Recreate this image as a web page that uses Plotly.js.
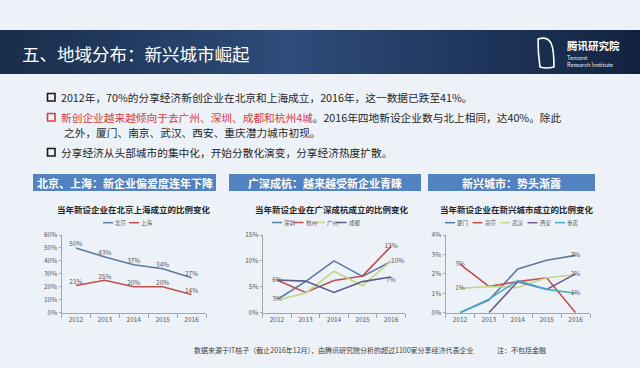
<!DOCTYPE html>
<html><head><meta charset="utf-8">
<script src="https://cdn.plot.ly/plotly-3.0.1.min.js"></script>
<style>html,body{margin:0;padding:0;background:#edf1f8;}#chart{width:640px;height:368px;}</style>
</head><body><div id="chart"></div>
<script>
// ---------- data ----------
const years = ['2012','2013','2014','2015','2016'];

// chart 1: 北京 / 上海
const bjshNames = ['北京','上海'];
const beijing  = [50,43,37,34,27];
const shanghai = [21,25,20,20,14];

// chart 2: 广深成杭
const gsNames   = ['深圳','杭州','广州','成都'];
const shenzhen  = [2.5,6.0,10.0,7.0,9.9];
const hangzhou  = [6.3,3.9,6.2,7.1,12.8];
const guangzhou = [2.4,3.8,8.0,5.2,10.0];
const chengdu   = [6.3,6.1,3.9,6.0,6.9];
const gsLabels  = [['3%','','','',''],['6%','','','','13%'],['','','','','10%'],['','','','','7%']];

// chart 3: 新兴城市
const newNames  = ['厦门','南京','武汉','西安','重庆'];
const xiamen    = [0,0.65,2.25,2.7,2.95];
const nanjing   = [2.5,1.35,1.6,1.8,0];
const wuhan     = [1.25,1.35,1.3,1.8,1.95];
const xian      = [null,0,1.6,1.2,2.0];
const chongqing = [0,0.7,1.65,1.2,1.0];
const newLabels = [['','','','','3%'],['3%','','','',''],['1%','','','','2%'],['','','','',''],['','','','','1%']];

// ---------- styles ----------
const FONT = '"Noto Sans CJK SC", "Noto Sans", sans-serif';
const c1 = ['#5b7ba3','#c0504d'];
const c2 = ['#5b7ba3','#c0504d','#c3d68a','#5f5a8c'];
const c3 = ['#5b7ba3','#c0504d','#c3d68a','#6e5a8e','#4bacc6'];
const W = 640, H = 368;
const px = x => x / W, py = y => 1 - y / H;

const traces = [];
function addSeries(vals, name, color, axN, text, pos) {
  traces.push({
    type:'scatter', mode:'lines+text', x: years, y: vals, name: name,
    xaxis: 'x' + (axN===1?'':axN), yaxis: 'y' + (axN===1?'':axN),
    line:{color:color, width:1.6}, text:text, textposition:pos,
    textfont:{size:6.5, color:'#595959', family:FONT},
    cliponaxis:false, showlegend:false, hoverinfo:'skip', connectgaps:false
  });
}
addSeries(beijing, bjshNames[0], c1[0], 1, beijing.map(v=>v+'%'), 'top center');
addSeries(shanghai, bjshNames[1], c1[1], 1, shanghai.map(v=>v+'%'), 'top center');

const gsData = [shenzhen, hangzhou, guangzhou, chengdu];
const gsPos = [
  ['middle center','top center','top center','top center','top center'],
  ['middle center','top center','top center','top center','middle center'],
  ['top center','top center','top center','top center','middle right'],
  ['top center','top center','top center','top center','bottom center']];
gsData.forEach((d,i)=>addSeries(d, gsNames[i], c2[i], 2, gsLabels[i], gsPos[i]));

const newData = [xiamen, nanjing, wuhan, xian, chongqing];
newData.forEach((d,i)=>addSeries(d, newNames[i], c3[i], 3, newLabels[i], 'middle center'));

function xa(d0, d1, anchor) {
  return {domain:[px(d0), px(d1)], anchor:anchor, type:'category', range:[-0.5,4.5],
    tickson:'boundaries', ticks:'outside', ticklen:4, tickcolor:'#a6a6a6',
    showline:true, linecolor:'#a6a6a6', linewidth:1, showgrid:false, zeroline:false,
    tickfont:{size:6.5, color:'#595959', family:FONT}, fixedrange:true};
}
function ya(anchor, max, dtick) {
  return {domain:[py(312.7), py(235)], anchor:anchor, range:[0,max], dtick:dtick, ticksuffix:'%',
    showline:true, linecolor:'#a6a6a6', linewidth:1, ticks:'outside', ticklen:2, tickcolor:'#a6a6a6',
    showgrid:false, zeroline:false, tickfont:{size:6.5, color:'#595959', family:FONT}, fixedrange:true};
}

const shapes = [];
const annotations = [];
function ann(text, x, y, size, color, xanchor, extra) {
  annotations.push(Object.assign({text:text, x:px(x), y:py(y), xref:'paper', yref:'paper',
    xanchor:xanchor||'left', yanchor:'middle', showarrow:false,
    font:{size:size, color:color, family:FONT}}, extra||{}));
}
function rect(x0,y0,x1,y1,fill,line,lw) {
  shapes.push({type:'rect', xref:'paper', yref:'paper', x0:px(x0), x1:px(x1), y0:py(y1), y1:py(y0),
    fillcolor:fill, line:{color:line||fill, width:lw===undefined?0:lw}, layer:'below'});
}

// title banner text
ann('五、地域分布：新兴城市崛起', 20, 53, 17.5, '#ffffff', 'left');
ann('<b>腾讯研究院</b>', 565, 45, 10.5, '#ffffff', 'left');
ann('Tencent', 565, 57.5, 5.5, '#e8eef6', 'left');
ann('Research Institute', 565, 64.5, 5.5, '#e8eef6', 'left');

// bullets
rect(47.5, 93.5, 55, 101, 'rgba(0,0,0,0)', '#1a1a1a', 1.6);
rect(47.5, 113.5, 55, 121, 'rgba(0,0,0,0)', '#d8403a', 1.6);
rect(47.5, 148.5, 55, 156, 'rgba(0,0,0,0)', '#1a1a1a', 1.6);
const BF = 10.7;
ann('2012年，70%的分享经济新创企业在北京和上海成立，2016年，这一数据已跌至41%。', 58.5, 97.5, BF, '#262626');
ann('<span style="color:#d8403a">新创企业越来越倾向于去广州、深圳、成都和杭州4城</span>。2016年四地新设企业数与北上相同，达40%。除此', 58.5, 117.5, BF, '#262626');
ann('之外，厦门、南京、武汉、西安、重庆潜力城市初现。', 62, 132.5, BF, '#262626');
ann('分享经济从头部城市的集中化，开始分散化演变，分享经济热度扩散。', 58.5, 152.5, BF, '#262626');

// header boxes
const headers = [['北京、上海：新企业偏爱度连年下降',33,216],['广深成杭：越来越受新企业青睐',229,421],['新兴城市：势头渐露',428,595]];
headers.forEach(h=>{
  rect(h[1],174,h[2],191,'#5283c0');
  ann('<b>'+h[0]+'</b>', (h[1]+h[2])/2, 182.5, 11, '#ffffff', 'center');
});

// chart titles
ann('<b>当年新设企业在北京上海成立的比例变化</b>', 134, 209, 8.5, '#262626', 'center');
ann('<b>当年新设企业在广深成杭成立的比例变化</b>', 332, 209, 8.5, '#262626', 'center');
ann('<b>当年新设企业在新兴城市成立的比例变化</b>', 517, 209, 8.5, '#262626', 'center');

// legends (drawn from the series names and colors)
function legend(names, colors, x0, step, y, len) {
  names.forEach((n,i)=>{
    const xs = x0 + i*step;
    shapes.push({type:'line', xref:'paper', yref:'paper', x0:px(xs), x1:px(xs+len), y0:py(y), y1:py(y),
      line:{color:colors[i], width:1.5}});
    ann(n, xs+len, y, 5.5, '#595959', 'left');
  });
}
legend(bjshNames, c1, 103, 26, 222.7, 10);
legend(gsNames, c2, 272, 21.5, 222.5, 10);
legend(newNames, c3, 445, 27.5, 222.7, 10);

// footer
ann('数据来源于IT桔子（截止2016年12月），由腾讯研究院分析的超过1100家分享经济代表企业', 192, 350, 7, '#404040', 'left');
ann('注：不包括金融', 495, 350, 7, '#404040', 'left');

// banner image (gradient) and logo
const bannerSvg = '<svg xmlns="http://www.w3.org/2000/svg" width="640" height="44" preserveAspectRatio="none">' +
  '<defs><linearGradient id="g" x1="0" x2="1" y1="0" y2="0">' +
  '<stop offset="0" stop-color="#1a2d4a"/><stop offset="0.45" stop-color="#2d4c7a"/><stop offset="1" stop-color="#122340"/>' +
  '</linearGradient></defs><rect width="640" height="44" fill="url(#g)"/></svg>';
const logoSvg = '<svg xmlns="http://www.w3.org/2000/svg" width="24" height="34" viewBox="0 0 24 34">' +
  '<path d="M3,3 Q12,0 16,7 Q19,13 19,31 Q11,33 5,31 Q3,18 3,3 Z" fill="none" stroke="#ffffff" stroke-width="1.6"/></svg>';
const uri = s => 'data:image/svg+xml;utf8,' + encodeURIComponent(s);

const layout = {
  width: W, height: H, margin:{l:0,r:0,t:0,b:0},
  paper_bgcolor:'#edf1f8', plot_bgcolor:'rgba(0,0,0,0)',
  font:{family:FONT},
  showlegend:false,
  xaxis: xa(61.5, 206, 'y'), yaxis: ya('x', 60, 10),
  xaxis2: xa(262.7, 405.3, 'y2'), yaxis2: ya('x2', 15, 5),
  xaxis3: xa(445.5, 590, 'y3'), yaxis3: ya('x3', 4, 1),
  shapes: shapes, annotations: annotations,
  images: [
    {source: uri(bannerSvg), xref:'paper', yref:'paper', x:0, y:py(30), sizex:1, sizey:44/H,
     sizing:'stretch', xanchor:'left', yanchor:'top', layer:'below'},
    {source: uri(logoSvg), xref:'paper', yref:'paper', x:px(535), y:py(36), sizex:px(24)-px(0), sizey:34/H,
     sizing:'contain', xanchor:'left', yanchor:'top', layer:'above'}
  ]
};
Plotly.newPlot('chart', traces, layout, {staticPlot:true, displayModeBar:false});
</script></body></html>
